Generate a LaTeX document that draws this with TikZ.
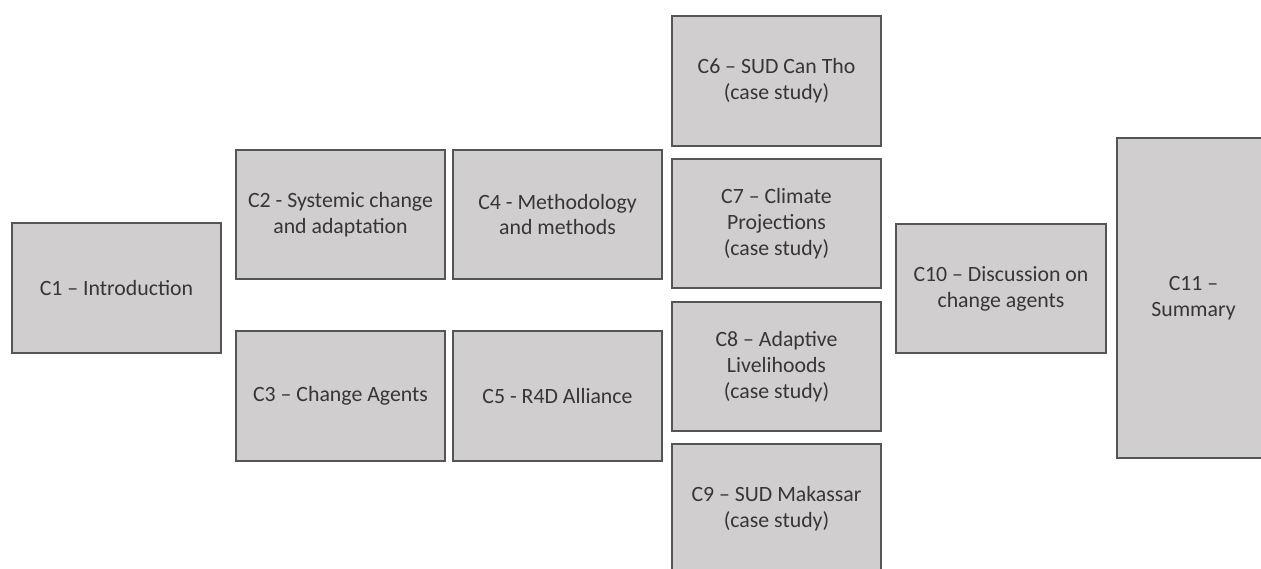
\documentclass[tikz,border=0pt]{standalone}
\usepackage{fontspec}
\setmainfont{Carlito}
\definecolor{boxfill}{HTML}{D0CECE}
\definecolor{boxline}{HTML}{555555}
\definecolor{boxtext}{HTML}{363636}
\begin{document}
\begin{tikzpicture}[x=1pt,y=-1pt,
  chap/.style={draw=boxline, fill=boxfill, line width=1.3pt, inner sep=0pt,
    minimum width=209pt, minimum height=129pt, align=center, text=boxtext,
    font=\fontsize{21.8}{25.8}\selectfont}]
\useasboundingbox (0,0) rectangle (1261,568);
\clip (0,0) rectangle (1261,568);
\node[chap, minimum height=130pt] (c1) at (116.5,288) {C1 -- Introduction};
\node[chap] (c2) at (340.5,214.5) {C2 - Systemic change\\and adaptation};
\node[chap, minimum height=130pt] (c3) at (340.5,396) {C3 -- Change Agents};
\node[chap] (c4) at (557.5,214.5) {C4 - Methodology\\and methods};
\node[chap, minimum height=130pt] (c5) at (557.5,396) {C5 - R4D Alliance};
\node[chap, minimum height=130pt] (c6) at (776.5,81) {C6 -- SUD Can Tho\\(case study)};
\node[chap] (c7) at (776.5,223.5) {C7 -- Climate\\Projections\\(case study)};
\node[chap] (c8) at (776.5,366.5) {C8 -- Adaptive\\Livelihoods\\(case study)};
\node[chap] (c9) at (776.5,508.5) {C9 -- SUD Makassar\\(case study)};
\node[chap, minimum width=210pt] (c10) at (1001,288.5) {C10 -- Discussion on\\change agents};
\node[chap, minimum width=153pt, minimum height=320pt] (c11) at (1193.5,298) {C11 --\\Summary};
\end{tikzpicture}
\end{document}
